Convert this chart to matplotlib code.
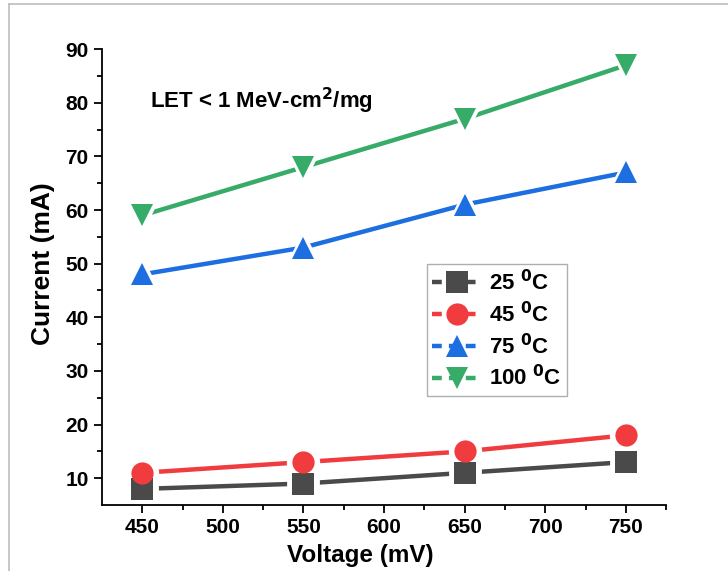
import numpy as np
import matplotlib.pyplot as plt
from matplotlib.lines import Line2D

plt.rcParams['font.family'] = ['Liberation Sans', 'DejaVu Sans']
plt.rcParams['font.weight'] = 'bold'

voltage = [450, 550, 650, 750]
i_25 = [8, 9, 11, 13]
i_45 = [11, 13, 15, 18]
i_75 = [48, 53, 61, 67]
i_100 = [59, 68, 77, 87]

labels = ['25 $^{0}$C', '45 $^{0}$C', '75 $^{0}$C', '100 $^{0}$C']
colors = ['#4a4a4a', '#f03c3f', '#1d6ee0', '#37ab68']
markers = ['s', 'o', '^', 'v']
series = [i_25, i_45, i_75, i_100]

fig = plt.figure(figsize=(7.28, 5.71), dpi=100)
ax = fig.add_axes([0.140, 0.1156, 0.775, 0.7984])

# lines first, then white halo so the line stops short of the marker
for y, c in zip(series, colors):
    ax.plot(voltage, y, '-', color=c, lw=3.2, solid_capstyle='round', zorder=2)
for y, m in zip(series, markers):
    ax.plot(voltage, y, linestyle='none', marker=m, markerfacecolor='white',
            markeredgecolor='white', ms=22, mew=2, zorder=3)
for y, c, m, lab in zip(series, colors, markers, labels):
    ax.plot(voltage, y, linestyle='none', marker=m, color=c, ms=16, mew=0, zorder=4)

ax.set_xlim(425, 775)
ax.set_ylim(5, 90)
ax.set_xticks([450, 500, 550, 600, 650, 700, 750])
ax.set_xticks(np.arange(475, 776, 50), minor=True)
ax.set_yticks(np.arange(10, 91, 10))
ax.set_yticks(np.arange(15, 90, 10), minor=True)

for s in ['top', 'right']:
    ax.spines[s].set_visible(False)
for s in ['left', 'bottom']:
    ax.spines[s].set_linewidth(1.3)
    ax.spines[s].set_zorder(3.5)
ax.tick_params(which='major', length=6, width=1.3, labelsize=15, direction='out')
ax.tick_params(which='minor', length=3.5, width=1.3, direction='out')
for t in ax.get_xticklabels() + ax.get_yticklabels():
    t.set_fontweight('bold')

ax.set_xlabel('Voltage (mV)', fontsize=17.5, fontweight='bold')
ax.set_ylabel('Current (mA)', fontsize=19, fontweight='bold')
ax.xaxis.set_label_coords(0.458, -0.11)
ax.yaxis.set_label_coords(-0.104, 0.53)
ax.xaxis.label.set_va('center')
ax.yaxis.label.set_va('center')

ax.text(0.085, 0.886, 'LET < 1 MeV-cm$^{2}$/mg', transform=ax.transAxes,
        fontsize=16, fontweight='bold', va='center')

handles = []
for c, m, lab in zip(colors, markers, labels):
    handles.append(Line2D([0], [0], color=c, lw=3.2, marker=m, ms=16,
                          mew=0, dashes=(2.2, 1.6), label=lab))
leg = ax.legend(handles=handles, loc='upper left', bbox_to_anchor=(0.576, 0.528),
                frameon=True, fancybox=False, fontsize=16, handlelength=2.2,
                handletextpad=0.35, labelspacing=0.3, borderpad=0.25,
                borderaxespad=0)
leg.get_frame().set_edgecolor('#9a9a9a')
leg.get_frame().set_linewidth(1.0)
for t in leg.get_texts():
    t.set_fontweight('bold')

# thin gray border of the original screenshot
fig.add_artist(Line2D([9 / 728, 9 / 728], [0, 1 - 4 / 571], color='#bdbdbd', lw=1.2))
fig.add_artist(Line2D([9 / 728, 1], [1 - 4 / 571, 1 - 4 / 571], color='#bdbdbd', lw=1.2))

fig.savefig('out.png', dpi=100)
